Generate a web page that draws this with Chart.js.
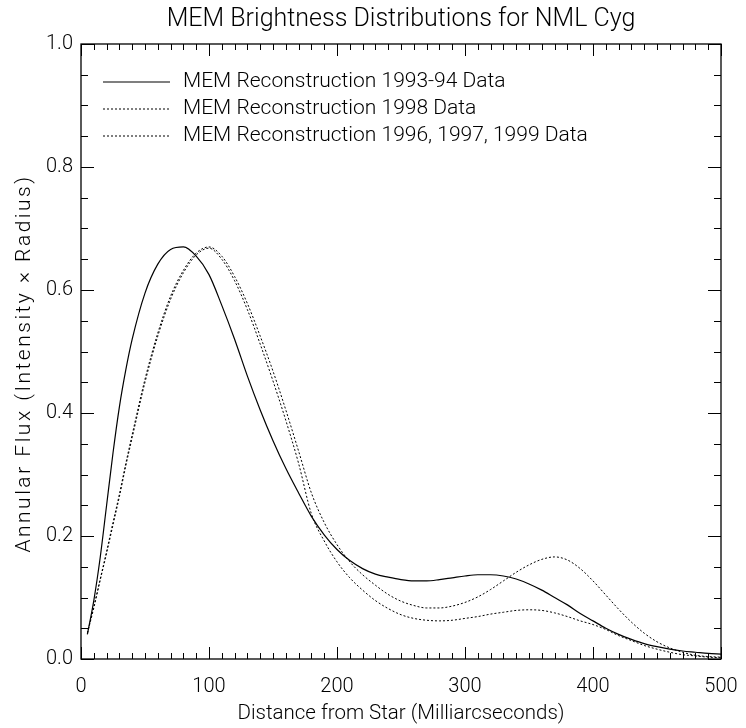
<!DOCTYPE html>
<html>
<head>
<meta charset="utf-8">
<title>MEM Brightness Distributions for NML Cyg</title>
<script src="https://cdn.jsdelivr.net/npm/chart.js@4.4.1/dist/chart.umd.min.js"></script>
<style>
  html, body { margin: 0; padding: 0; background: #fff; }
</style>
</head>
<body>
<canvas id="chart" width="746" height="728"></canvas>
<script>
/* Radial profiles: distance from the star (mas) and annular flux */
var distance = [5, 10, 15, 20, 25, 30, 35, 40, 50, 60, 70, 80, 90, 100,
  110, 120, 130, 140, 150, 160, 170, 180, 190, 200, 210, 220, 230, 240, 250,
  260, 270, 280, 290, 300, 310, 320, 330, 340, 350, 360, 370, 380, 390, 400,
  410, 420, 430, 440, 450, 460, 470, 480, 490, 500];

var flux9394 = [0.040, 0.095, 0.165, 0.250, 0.335, 0.410, 0.470, 0.520, 0.595, 0.642, 0.666, 0.670, 0.655, 0.625,
  0.575, 0.520, 0.460, 0.405, 0.355, 0.310, 0.270, 0.232, 0.202, 0.178, 0.160, 0.147, 0.138, 0.133, 0.129,
  0.127, 0.127, 0.129, 0.132, 0.135, 0.137, 0.137, 0.135, 0.130, 0.122, 0.112, 0.100, 0.088, 0.074, 0.062,
  0.050, 0.040, 0.032, 0.025, 0.020, 0.016, 0.013, 0.011, 0.009, 0.008];

var flux1998 = [0.042, 0.085, 0.130, 0.175, 0.222, 0.268, 0.318, 0.365, 0.455, 0.530, 0.590, 0.632, 0.660, 0.670,
  0.655, 0.622, 0.578, 0.525, 0.468, 0.405, 0.338, 0.270, 0.222, 0.186, 0.158, 0.137, 0.120, 0.105, 0.094,
  0.087, 0.083, 0.083, 0.086, 0.092, 0.101, 0.113, 0.127, 0.141, 0.153, 0.162, 0.166, 0.161, 0.147, 0.127,
  0.104, 0.081, 0.060, 0.042, 0.028, 0.018, 0.011, 0.006, 0.004, 0.003];

var flux969799 = [0.042, 0.083, 0.128, 0.172, 0.218, 0.264, 0.314, 0.360, 0.450, 0.525, 0.585, 0.628, 0.657, 0.668,
  0.650, 0.615, 0.568, 0.512, 0.452, 0.388, 0.318, 0.236, 0.192, 0.158, 0.132, 0.112, 0.095, 0.082, 0.072,
  0.066, 0.063, 0.062, 0.063, 0.066, 0.069, 0.073, 0.076, 0.079, 0.080, 0.079, 0.075, 0.069, 0.062, 0.056,
  0.048, 0.038, 0.030, 0.022, 0.016, 0.011, 0.007, 0.005, 0.003, 0.002];

var xTickValues = [0, 100, 200, 300, 400, 500];
var yTickValues = [0, 0.2, 0.4, 0.6, 0.8, 1.0];
var yTickLabels = ['0.0', '0.2', '0.4', '0.6', '0.8', '1.0'];

var titleText = 'MEM Brightness Distributions for NML Cyg';
var yTitleText = 'Annular Flux (Intensity \u00d7 Radius)';

var fontFamily = 'Roboto, "Liberation Sans", sans-serif';

function toPoints(ys) {
  return distance.map(function(d, i) { return {x: d, y: ys[i]}; });
}

/* Frame with inward ticks on all four sides (IDL style) */
var frameTicks = {
  id: 'frameTicks',
  afterDatasetsDraw: function(chart) {
    var ctx = chart.ctx;
    var a = chart.chartArea;
    var xs = chart.scales.x, ys = chart.scales.y;
    var i, p, len;
    ctx.save();
    ctx.strokeStyle = '#000';
    ctx.lineWidth = 1.3;
    ctx.strokeRect(a.left, a.top, a.right - a.left, a.bottom - a.top);
    ctx.lineWidth = 1;
    ctx.beginPath();
    for (i = 0; i <= 50; i++) {
      p = Math.round(xs.getPixelForValue(i * 10)) + 0.5;
      len = (i % 10 === 0) ? 12 : 6;
      ctx.moveTo(p, a.bottom); ctx.lineTo(p, a.bottom - len);
      ctx.moveTo(p, a.top); ctx.lineTo(p, a.top + len);
    }
    for (i = 0; i <= 20; i++) {
      p = Math.round(ys.getPixelForValue(i * 0.05)) + 0.5;
      len = (i % 4 === 0) ? 13 : 7;
      ctx.moveTo(a.left, p); ctx.lineTo(a.left + len, p);
      ctx.moveTo(a.right, p); ctx.lineTo(a.right - len, p);
    }
    ctx.stroke();
    ctx.restore();
  }
};

/* Plot title (centred over the frame) and the spaced-out y title */
var titles = {
  id: 'titles',
  afterDraw: function(chart) {
    var ctx = chart.ctx;
    var a = chart.chartArea;
    ctx.save();
    ctx.fillStyle = '#000';
    ctx.textAlign = 'center';
    ctx.textBaseline = 'middle';
    ctx.font = '300 25px ' + fontFamily;
    ctx.fillText(titleText, (a.left + a.right) / 2, 20);

    ctx.translate(25, (a.top + a.bottom) / 2 + 12);
    ctx.rotate(-Math.PI / 2);
    ctx.font = '300 21px ' + fontFamily;
    ctx.letterSpacing = '2.5px';
    ctx.fillText(yTitleText, 0, 0);
    ctx.restore();
  }
};

/* Line key drawn inside the plot, top left */
var lineKey = {
  id: 'lineKey',
  afterDraw: function(chart) {
    var ctx = chart.ctx;
    var a = chart.chartArea;
    chart.data.datasets.forEach(function(ds, i) {
      var y = a.top + 38 + i * 27;
      ctx.save();
      ctx.strokeStyle = ds.borderColor;
      ctx.lineWidth = ds.borderWidth;
      ctx.setLineDash(ds.borderDash || []);
      ctx.beginPath();
      ctx.moveTo(a.left + 22, y);
      ctx.lineTo(a.left + 89, y);
      ctx.stroke();
      ctx.setLineDash([]);
      ctx.fillStyle = '#000';
      ctx.font = '300 21px ' + fontFamily;
      ctx.textBaseline = 'middle';
      ctx.fillText(ds.label, a.left + 102, y);
      ctx.restore();
    });
  }
};

var chart = new Chart(document.getElementById('chart'), {
  type: 'line',
  data: {
    datasets: [{
      label: 'MEM Reconstruction 1993-94 Data',
      data: toPoints(flux9394),
      borderColor: '#000',
      borderWidth: 1.2,
      borderDash: []
    }, {
      label: 'MEM Reconstruction 1998 Data',
      data: toPoints(flux1998),
      borderColor: '#000',
      borderWidth: 1,
      borderDash: [2, 2]
    }, {
      label: 'MEM Reconstruction 1996, 1997, 1999 Data',
      data: toPoints(flux969799),
      borderColor: '#000',
      borderWidth: 1,
      borderDash: [2, 2]
    }]
  },
  options: {
    responsive: false,
    animation: false,
    layout: { padding: { left: 0, right: 25, top: 44, bottom: 0 } },
    elements: {
      point: { radius: 0 },
      line: { cubicInterpolationMode: 'monotone', fill: false }
    },
    plugins: {
      legend: { display: false },
      tooltip: { enabled: false },
      title: { display: false }
    },
    scales: {
      x: {
        type: 'linear',
        min: 0,
        max: 500,
        afterBuildTicks: function(s) {
          s.ticks = xTickValues.map(function(v) { return {value: v}; });
        },
        afterFit: function(s) { s.height = 69; },
        grid: { display: false, drawTicks: false, tickLength: 0 },
        border: { display: false },
        ticks: {
          color: '#000',
          padding: 8,
          maxRotation: 0,
          font: { family: fontFamily, size: 20, weight: '300', lineHeight: 2.0 }
        },
        title: {
          display: true,
          text: 'Distance from Star (Milliarcseconds)',
          color: '#000',
          font: { family: fontFamily, size: 20.5, weight: '300' },
          padding: { top: 0, bottom: 2 }
        }
      },
      y: {
        type: 'linear',
        min: 0,
        max: 1,
        afterBuildTicks: function(s) {
          s.ticks = yTickValues.map(function(v) { return {value: v}; });
        },
        afterFit: function(s) { s.width = 81; },
        grid: { display: false, drawTicks: false, tickLength: 0 },
        border: { display: false },
        ticks: {
          color: '#000',
          padding: 8,
          font: { family: fontFamily, size: 20, weight: '300' },
          callback: function(v) {
            var k = yTickValues.indexOf(v);
            return k >= 0 ? yTickLabels[k] : v.toFixed(1);
          }
        },
        title: { display: false }
      }
    }
  },
  plugins: [frameTicks, titles, lineKey]
});
</script>
</body>
</html>
